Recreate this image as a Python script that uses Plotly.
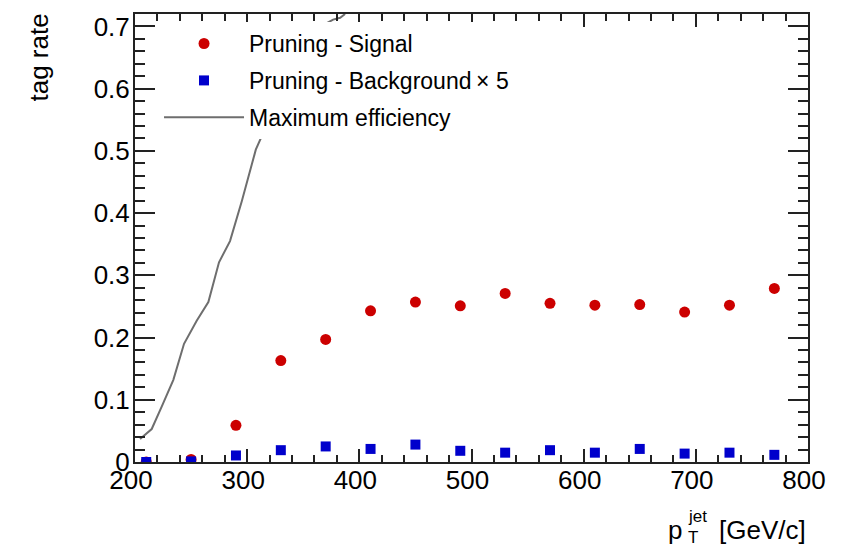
import plotly.graph_objects as go

# ---- data ----
pt_points = [210, 250, 290, 330, 370, 410, 450, 490, 530, 570, 610, 650, 690, 730, 770]
signal_rate = [0.0, 0.004, 0.059, 0.163, 0.197, 0.243, 0.257, 0.251, 0.271, 0.255, 0.252, 0.253, 0.241, 0.252, 0.279]
background_x5 = [0.0, 0.001, 0.0105, 0.019, 0.025, 0.021, 0.028, 0.018, 0.015, 0.019, 0.015, 0.021, 0.0135, 0.015, 0.0115]

maxeff_pt = [204.5, 214.9, 223.8, 234.2, 243.7, 255.0, 265.4, 274.9, 284.7, 295.2, 304.1, 307.7,
             356.0, 367.7, 376.6, 382.9, 387.3]
maxeff_rate = [0.037, 0.053, 0.089, 0.132, 0.190, 0.227, 0.257, 0.321, 0.355, 0.419, 0.478, 0.502,
               0.698, 0.702, 0.711, 0.714, 0.720]

x_range = [200, 800]
y_range = [0, 0.72]

FONT = "Liberation Sans, Arial, Helvetica, sans-serif"

fig = go.Figure()
fig.add_trace(go.Scatter(
    x=maxeff_pt, y=maxeff_rate, mode="lines", name="Maximum efficiency",
    line=dict(color="#6e6e6e", width=2), legendgroup="c", legendrank=3))
fig.add_trace(go.Scatter(
    x=pt_points, y=signal_rate, mode="markers", name="Pruning - Signal",
    marker=dict(symbol="circle", size=11, color="#cc0000"), legendgroup="a", legendrank=1))
fig.add_trace(go.Scatter(
    x=pt_points, y=background_x5, mode="markers", name="Pruning - Background\u2009\u00d7 5",
    marker=dict(symbol="square", size=10, color="#0000cc"), legendgroup="b", legendrank=2))

axis_common = dict(
    showline=True, linecolor="#222", linewidth=2, mirror="ticks",
    ticks="inside", tickcolor="#222", tickwidth=1.5,
    showgrid=False, zeroline=False,
    tickfont=dict(family=FONT, size=26, color="black"),
)

fig.update_xaxes(range=x_range, dtick=100, tick0=200, ticklen=13,
                 ticklabelshift=-4, ticklabelstandoff=-6,
                 minor=dict(dtick=20, ticks="inside", ticklen=7, tickcolor="#222", tickwidth=1.5),
                 **axis_common)
fig.update_yaxes(range=y_range, dtick=0.1, tick0=0, ticklen=20,
                 ticklabelstandoff=-2,
                 minor=dict(dtick=0.02, ticks="inside", ticklen=10, tickcolor="#222", tickwidth=1.5),
                 **axis_common)

fig.update_layout(
    width=856, height=547,
    margin=dict(l=135, r=48, t=12, b=85),
    paper_bgcolor="white", plot_bgcolor="white",
    showlegend=True,
    legend=dict(x=0.0357, y=0.982, xanchor="left", yanchor="top",
                bgcolor="white", borderwidth=0,
                font=dict(family=FONT, size=23, color="black"),
                tracegroupgap=4, itemwidth=80),
    annotations=[
        dict(text="tag rate", xref="paper", yref="paper", x=-0.143, y=1.005,
             xanchor="center", yanchor="top", textangle=-90, showarrow=False,
             font=dict(family=FONT, size=26, color="black")),
        dict(text="[GeV/c]", xref="paper", yref="paper", x=1.0, y=-0.152,
             xanchor="right", yanchor="middle", showarrow=False,
             font=dict(family=FONT, size=26, color="black")),
        dict(text="p", xref="paper", yref="paper", x=0.816, y=-0.152,
             xanchor="right", yanchor="middle", showarrow=False,
             font=dict(family=FONT, size=26, color="black")),
        dict(text="jet", xref="paper", yref="paper", x=0.818, y=-0.122,
             xanchor="left", yanchor="middle", showarrow=False,
             font=dict(family=FONT, size=17, color="black")),
        dict(text="T", xref="paper", yref="paper", x=0.818, y=-0.169,
             xanchor="left", yanchor="middle", showarrow=False,
             font=dict(family=FONT, size=17, color="black")),
    ],
)

fig.write_html("out.html")
